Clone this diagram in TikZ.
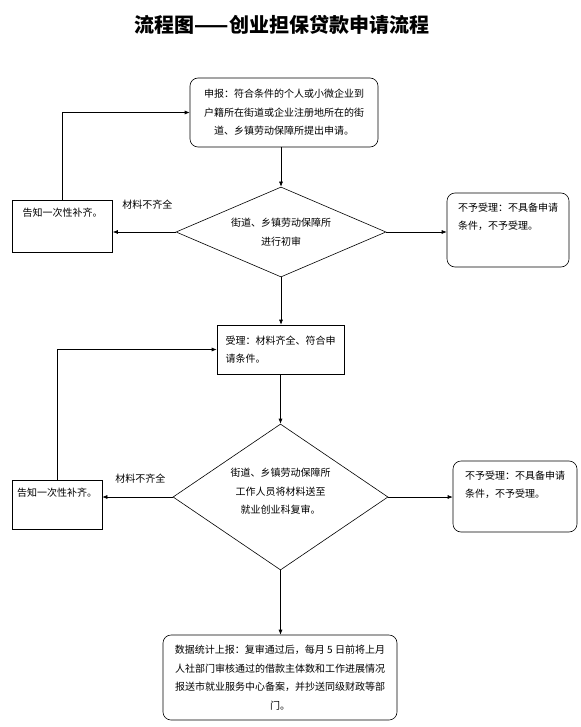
\documentclass[tikz,border=0pt]{standalone}
\usepackage{fontspec}
\setmainfont{Noto Sans CJK SC}
\usepackage{tikz}
\usetikzlibrary{arrows.meta,positioning,calc,shapes.geometric}

\begin{document}
\begin{tikzpicture}[x=1pt, y=-1pt,
  font=\fontsize{10}{18.5}\selectfont,
  rbox/.style={draw, line width=0.6pt, rounded corners=8pt, align=center, inner sep=0pt},
  sbox/.style={draw, line width=0.6pt, rectangle, align=center, inner sep=0pt},
  decision/.style={draw, line width=0.6pt, diamond, align=center, inner sep=0pt},
  flow/.style={-{Latex[length=5pt,width=4pt]}, line width=0.6pt},
  lab/.style={inner sep=0pt}
]
\useasboundingbox (0,0) rectangle (580,727);
\node[font=\fontsize{20}{24}\selectfont\bfseries] (title) at (282,25) {流程图——创业担保贷款申请流程};
\node[rbox, minimum width=188pt, minimum height=69pt] (apply) at (284,112.5) {申报：符合条件的个人或小微企业到\\户籍所在街道或企业注册地所在的街\\道、乡镇劳动保障所提出申请。};
\node[decision, aspect=2.3, minimum width=210pt, minimum height=90pt] (check1) at (281,232) {街道、乡镇劳动保障所\\进行初审};
\node[sbox, minimum width=100pt, minimum height=52pt, text depth=27.8pt] (supp1) at (62.5,226) {告知一次性补齐。};
\node[rbox, align=left, text width=100pt, minimum width=122pt, minimum height=74pt, text depth=46pt] (reject1) at (508,230) {不予受理：不具备申请\\条件，不予受理。};
\node[sbox, align=left, text width=110pt, minimum width=127pt, minimum height=49pt] (accept) at (280.5,349.5) {受理：材料齐全、符合申\\请条件。};
\node[decision, aspect=1.5, minimum width=215pt, minimum height=146pt, text depth=11.8pt] (check2) at (280.5,497) {街道、乡镇劳动保障所\\工作人员将材料送至\\就业创业科复审。};
\node[sbox, minimum width=90pt, minimum height=49pt, text depth=24.8pt] (supp2) at (57,504.5) {告知一次性补齐。};
\node[rbox, align=left, text width=100pt, minimum width=124pt, minimum height=71pt, text depth=43.2pt] (reject2) at (515,496.5) {不予受理：不具备申请\\条件，不予受理。};
\node[rbox, minimum width=234pt, minimum height=85pt] (report) at (280,677.5) {数据统计上报：复审通过后，每月 5 日前将上月\\人社部门审核通过的借款主体数和工作进展情况\\报送市就业服务中心备案，并抄送同级财政等部\\门。};
% main line
\draw[flow] (check1.north |- apply.south) -- (check1.north);
\draw[flow] (check1.south) -- (check1.south |- accept.north);
\draw[flow] (check2.north |- accept.south) -- (check2.north);
\draw[flow] (check2.south) -- (check2.south |- report.north);
% side branches
\draw[flow] (check1.west) -- node[lab, above=22pt, pos=0.45]{材料不齐全} (check1.west -| supp1.east);
\draw[flow] (check2.west) -- node[lab, above=13pt, pos=0.46]{材料不齐全} (check2.west -| supp2.east);
\draw[flow] (check1.east) -- (check1.east -| reject1.west);
\draw[flow] (check2.east) -- (check2.east -| reject2.west);
% back to the step again
\draw[flow] (supp1.north) |- (apply.west);
\draw[flow] (supp2.north) |- (accept.west);
\end{tikzpicture}
\end{document}
